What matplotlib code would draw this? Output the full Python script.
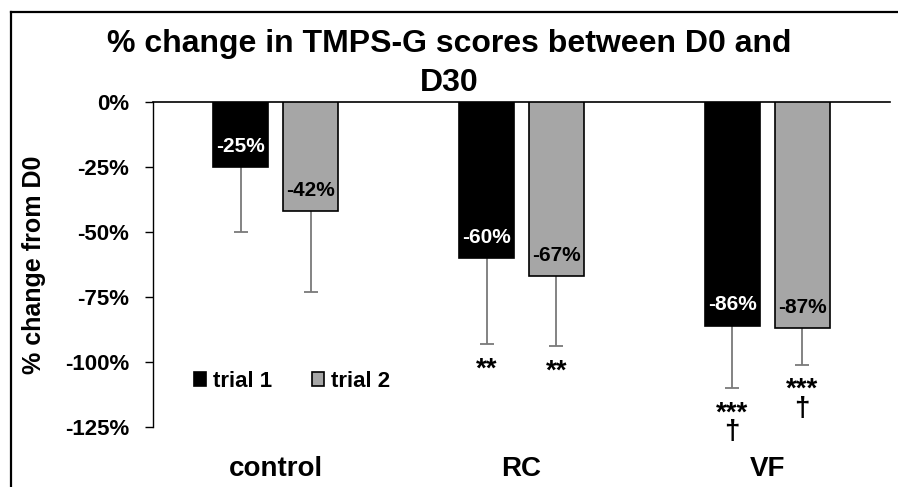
import matplotlib.pyplot as plt
import numpy as np
from matplotlib.lines import Line2D

plt.rcParams['font.family'] = ['Liberation Sans', 'DejaVu Sans']
plt.rcParams['font.weight'] = 'bold'

# дані
groups = ['control', 'RC', 'VF']
trial1 = [-25, -60, -86]
trial2 = [-42, -67, -87]
sd1 = [25, 33, 24]
sd2 = [31, 27, 14]
sig1 = ['', '**', '***\n†']
sig2 = ['', '**', '***\n†']
yticks = [0, -25, -50, -75, -100, -125]
title_lines = ['% change in TMPS-G scores between D0 and', 'D30']

fig = plt.figure(figsize=(8.98, 4.87), dpi=100)
ax = fig.add_axes([153 / 898, 1 - 427 / 487, 737 / 898, 325 / 487])

x = np.arange(len(groups))
w = 0.224
off = 0.142

ax.bar(x - off, trial1, w, color='black', edgecolor='black', linewidth=1.2, label='trial 1', zorder=3)
ax.bar(x + off, trial2, w, color='#a6a6a6', edgecolor='black', linewidth=1.2, label='trial 2', zorder=3)

# тільки нижні похибки (верхній ковпачок ховаємо)
for xs, vals, sds in [(x - off, trial1, sd1), (x + off, trial2, sd2)]:
    _, caps, _ = ax.errorbar(xs, vals, yerr=[sds, [0] * 3], fmt='none', ecolor='#7a7a7a',
                             elinewidth=1.3, capsize=5, capthick=1.3, zorder=2)
    caps[1].set_visible(False)

# підписи значень на стовпчиках
for xi, v in zip(x - off, trial1):
    ax.annotate(f'{v}%', (xi, v), xytext=(0, 15), textcoords='offset points',
                ha='center', va='center', color='white', fontsize=15, fontweight='bold', zorder=4)
for xi, v in zip(x + off, trial2):
    ax.annotate(f'{v}%', (xi, v), xytext=(0, 15), textcoords='offset points',
                ha='center', va='center', color='black', fontsize=15, fontweight='bold', zorder=4)

# зірочки значущості
for xi, v, s, t in zip(x - off, trial1, sd1, sig1):
    ax.annotate(t, (xi, v - s), xytext=(0, -9), textcoords='offset points',
                ha='center', va='top', fontsize=20, linespacing=0.62)
for xi, v, s, t in zip(x + off, trial2, sd2, sig2):
    ax.annotate(t, (xi, v - s), xytext=(0, -9), textcoords='offset points',
                ha='center', va='top', fontsize=20, linespacing=0.62)

ax.set_xlim(-0.5, 2.5)
ax.set_ylim(-125, 0)
ax.set_yticks(yticks)
ax.set_yticklabels([f'{t}%' for t in yticks])
ax.set_xticks(x)
ax.set_xticklabels(groups)
ax.tick_params(axis='y', direction='out', length=6, width=1, pad=11, labelsize=16)
ax.tick_params(axis='x', length=0, pad=21, labelsize=20)

for side in ['right', 'bottom']:
    ax.spines[side].set_visible(False)
ax.spines['top'].set_linewidth(1.2)
ax.spines['left'].set_linewidth(1)

ax.set_ylabel('% change from D0', fontsize=18, fontweight='bold', va='center')
ax.yaxis.set_label_coords((34 - 153) / 737, 0.5)

ax.legend(loc='center left', bbox_to_anchor=(0.028, 0.14), ncol=2, frameon=False,
          fontsize=16, handlelength=0.55, handleheight=0.55, handletextpad=0.3,
          columnspacing=1.8)

# заголовок у два рядки
fig.text(0.5, 1 - 44 / 487, title_lines[0], ha='center', va='center',
         fontsize=23, fontweight='bold')
fig.text(0.5, 1 - 83 / 487, title_lines[1], ha='center', va='center',
         fontsize=23, fontweight='bold')

# рамка навколо графіка
fig.add_artist(Line2D([11 / 898, 11 / 898], [0, 1 - 12 / 487], color='black', lw=1.6,
                      transform=fig.transFigure))
fig.add_artist(Line2D([11 / 898, 1], [1 - 12 / 487, 1 - 12 / 487], color='black', lw=1.6,
                      transform=fig.transFigure))

fig.savefig('out.png', dpi=100)
